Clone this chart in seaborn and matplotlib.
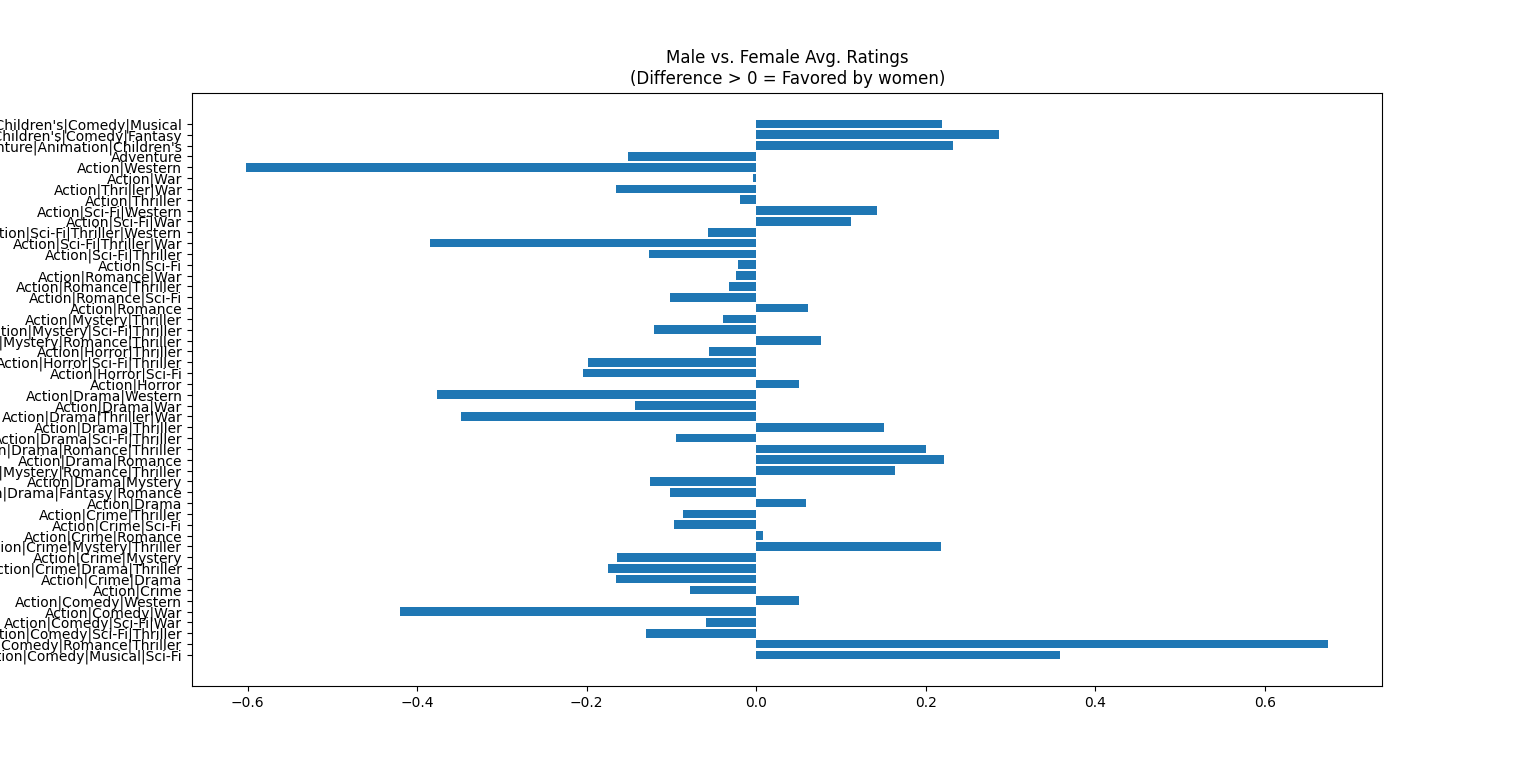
import matplotlib
matplotlib.use("Agg")
import matplotlib.pyplot as plt
import pandas as pd
import seaborn as sns

# genres in sorted order (first one drawn at the bottom)
GENRES = [
    "Action|Comedy|Musical|Sci-Fi",
    "Action|Comedy|Romance|Thriller",
    "Action|Comedy|Sci-Fi|Thriller",
    "Action|Comedy|Sci-Fi|War",
    "Action|Comedy|War",
    "Action|Comedy|Western",
    "Action|Crime",
    "Action|Crime|Drama",
    "Action|Crime|Drama|Thriller",
    "Action|Crime|Mystery",
    "Action|Crime|Mystery|Thriller",
    "Action|Crime|Romance",
    "Action|Crime|Sci-Fi",
    "Action|Crime|Thriller",
    "Action|Drama",
    "Action|Drama|Fantasy|Romance",
    "Action|Drama|Mystery",
    "Action|Drama|Mystery|Romance|Thriller",
    "Action|Drama|Romance",
    "Action|Drama|Romance|Thriller",
    "Action|Drama|Sci-Fi|Thriller",
    "Action|Drama|Thriller",
    "Action|Drama|Thriller|War",
    "Action|Drama|War",
    "Action|Drama|Western",
    "Action|Horror",
    "Action|Horror|Sci-Fi",
    "Action|Horror|Sci-Fi|Thriller",
    "Action|Horror|Thriller",
    "Action|Mystery|Romance|Thriller",
    "Action|Mystery|Sci-Fi|Thriller",
    "Action|Mystery|Thriller",
    "Action|Romance",
    "Action|Romance|Sci-Fi",
    "Action|Romance|Thriller",
    "Action|Romance|War",
    "Action|Sci-Fi",
    "Action|Sci-Fi|Thriller",
    "Action|Sci-Fi|Thriller|War",
    "Action|Sci-Fi|Thriller|Western",
    "Action|Sci-Fi|War",
    "Action|Sci-Fi|Western",
    "Action|Thriller",
    "Action|Thriller|War",
    "Action|War",
    "Action|Western",
    "Adventure",
    "Adventure|Animation|Children's",
    "Adventure|Children's|Comedy|Fantasy",
    "Adventure|Children's|Comedy|Musical",
]

# female avg rating minus male avg rating
DIFF = [
    0.358, 0.675, -0.130, -0.059, -0.420, 0.050, -0.078, -0.165, -0.175, -0.164,
    0.218, 0.008, -0.097, -0.087, 0.059, -0.102, -0.125, 0.164, 0.221, 0.200,
    -0.095, 0.151, -0.349, -0.143, -0.377, 0.050, -0.204, -0.199, -0.056, 0.076,
    -0.121, -0.039, 0.061, -0.102, -0.032, -0.024, -0.021, -0.126, -0.385, -0.057,
    0.112, 0.143, -0.019, -0.165, -0.004, -0.602, -0.151, 0.232, 0.287, 0.219,
]

df = pd.DataFrame({"genres": GENRES, "diff": DIFF})

fig, ax = plt.subplots(figsize=(15.36, 7.71), dpi=100)
sns.barplot(data=df, x="diff", y="genres", order=GENRES, orient="h",
            color="#1f77b4", saturation=1, width=0.8, ax=ax)

# matplotlib-style limits: first genre at bottom, 5% padding around the bars
n = len(GENRES)
pad = 0.05 * (n - 1 + 0.8)
ax.set_ylim(-0.4 - pad, n - 1 + 0.4 + pad)
ax.set_xlabel("")
ax.set_ylabel("")
ax.set_title("Male vs. Female Avg. Ratings\n(Difference > 0 = Favored by women)")

fig.savefig("out.png", dpi=100)
